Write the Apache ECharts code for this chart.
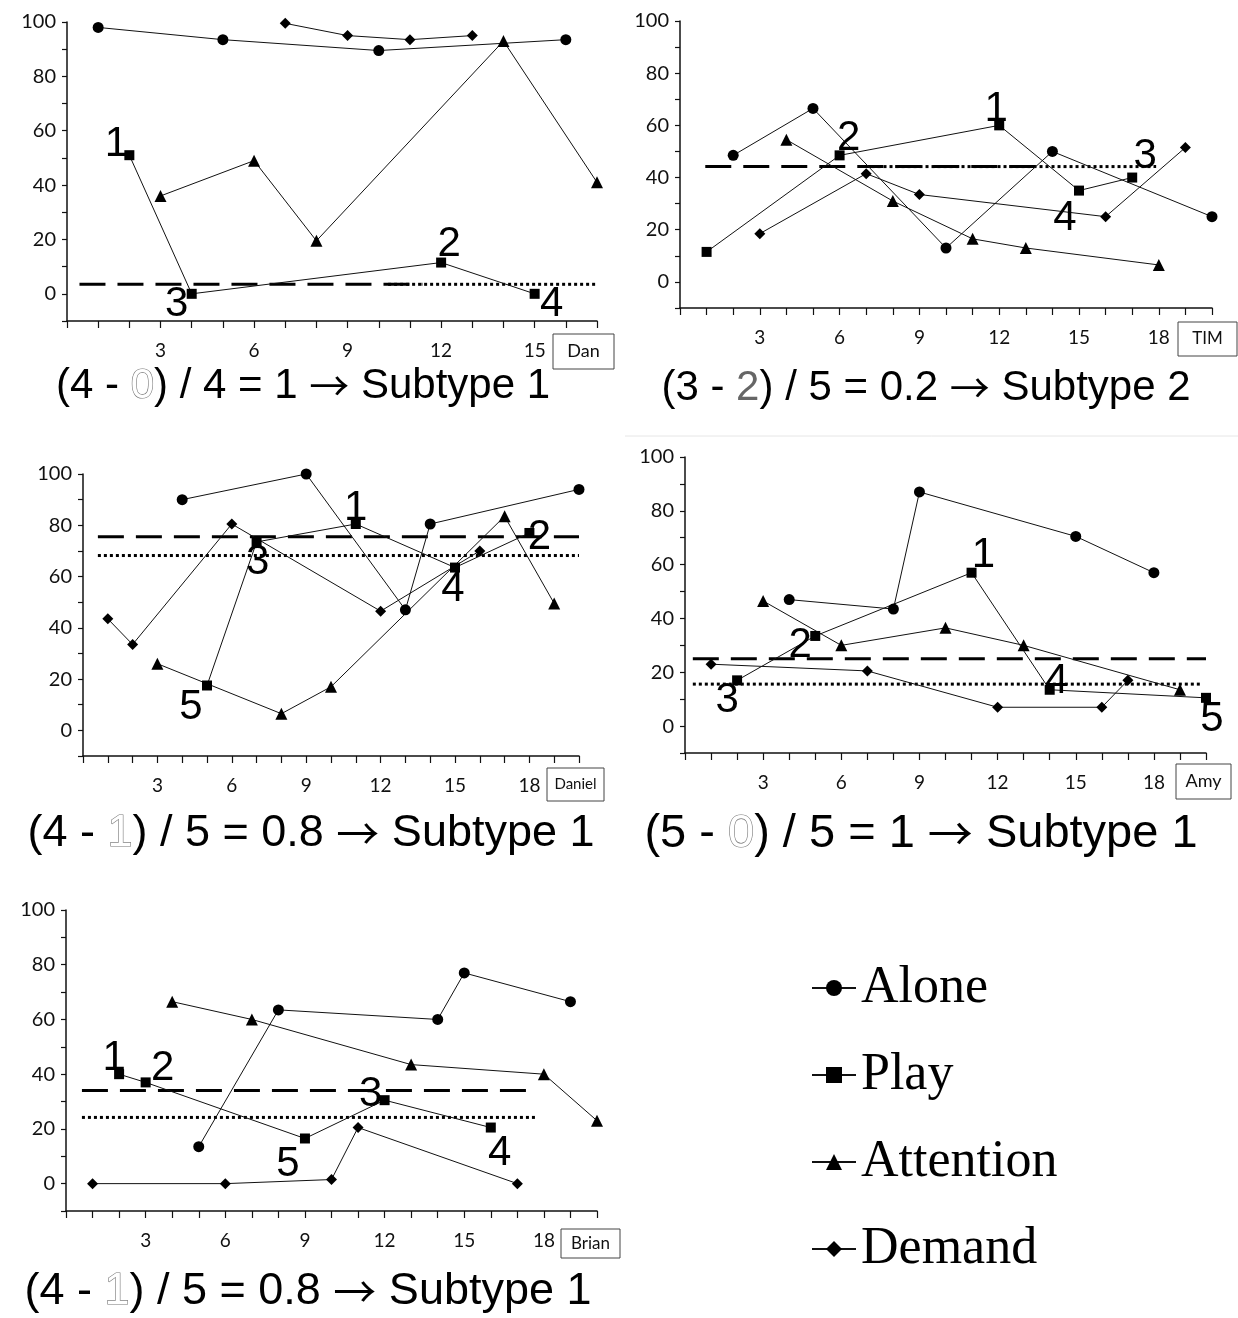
<!DOCTYPE html>
<html>
<head>
<meta charset="utf-8">
<script src="https://cdn.jsdelivr.net/npm/echarts@6/dist/echarts.min.js"></script>
<style>
  html, body { margin: 0; padding: 0; background: #fff; }
  #chart { width: 1238px; height: 1318px; }
</style>
</head>
<body>
<div id="chart"></div>
<script>
// Axis tick labels
const yTickLabels = [0, 20, 40, 60, 80, 100];
const xTickLabels = [3, 6, 9, 12, 15, 18];

// Dan: [session, % of intervals]
const danAlone = [[1, 98], [5, 93.5], [10, 89.5], [16, 93.5]];
const danPlay = [[2, 51], [4, 0], [12, 11.5], [15, 0]];
const danAttention = [[3, 36], [6, 49], [8, 19.5], [14, 93], [17, 41]];
const danDemand = [[7, 99.5], [9, 95], [11, 93.5], [13, 95]];
const danPlayRank = [1, 3, 2, 4];
const danDashed = [[0.4, 3.5], [11.4, 3.5]];
const danDotted = [[10.3, 3.5], [17, 3.5]];
const danFormula = '(4 - {o|0}) / 4 = 1 {a|\u2192} Subtype 1';

// TIM
const timAlone = [[2, 48.5], [5, 66.5], [10, 13], [14, 50], [20, 25]];
const timPlay = [[1, 11.5], [6, 48.5], [12, 60], [15, 35], [17, 40]];
const timAttention = [[4, 54.5], [8, 31], [11, 16.5], [13, 13], [18, 6.5]];
const timDemand = [[3, 18.5], [7, 41.5], [9, 33.5], [16, 25], [19, 51.5]];
const timPlayRank = [null, 2, 1, 4, 3];
const timDashed = [[0.95, 44.2], [13.4, 44.2]];
const timDotted = [[7.2, 44.2], [17.9, 44.2]];
const timFormula = '(3 - {g|2}) / 5 = 0.2 {a|\u2192} Subtype 2';

// Daniel
const danielAlone = [[4, 90], [9, 100], [13, 47], [14, 80.5], [20, 94]];
const danielPlay = [[5, 17.5], [7, 73.5], [11, 80.5], [15, 63.5], [18, 77]];
const danielAttention = [[3, 26], [8, 6.5], [10, 17], [17, 83.5], [19, 49.5]];
const danielDemand = [[1, 43.5], [2, 33.5], [6, 80.5], [12, 46.5], [16, 70]];
const danielPlayRank = [5, 3, 1, 4, 2];
const danielDashed = [[0.6, 75.5], [20, 75.5]];
const danielDotted = [[0.6, 68.2], [20, 68.2]];
const danielFormula = '(4 - {o|1}) / 5 = 0.8 {a|\u2192} Subtype 1';

// Amy
const amyAlone = [[4, 47], [8, 43.5], [9, 87], [15, 70.5], [18, 57]];
const amyPlay = [[2, 17], [5, 33.5], [11, 57], [14, 13.5], [20, 10.5]];
const amyAttention = [[3, 46.5], [6, 30], [10, 36.5], [13, 30], [19, 13.5]];
const amyDemand = [[1, 23], [7, 20.5], [12, 7], [16, 7], [17, 17]];
const amyPlayRank = [3, 2, 1, 4, 5];
const amyDashed = [[0.3, 25], [20, 25]];
const amyDotted = [[0.3, 15.6], [19.8, 15.6]];
const amyFormula = '(5 - {o|0}) / 5 = 1 {a|\u2192} Subtype 1';

// Brian
const brianAlone = [[5, 13.5], [8, 63.5], [14, 60], [15, 77], [19, 66.5]];
const brianPlay = [[2, 40], [3, 37], [9, 16.5], [12, 30.5], [16, 20.5]];
const brianAttention = [[4, 66.5], [7, 60], [13, 43.5], [18, 40], [20, 23]];
const brianDemand = [[1, 0], [6, 0], [10, 1.5], [11, 20.5], [17, 0]];
const brianPlayRank = [1, 2, 5, 3, 4];
const brianDashed = [[0.6, 34], [17.7, 34]];
const brianDotted = [[0.6, 24.2], [17.7, 24.2]];
const brianFormula = '(4 - {o|1}) / 5 = 0.8 {a|\u2192} Subtype 1';

const panels = [
  { name: 'Dan', alone: danAlone, play: danPlay, attention: danAttention, demand: danDemand,
    rank: danPlayRank, dashed: danDashed, dotted: danDotted, formula: danFormula, xMax: 17 },
  { name: 'TIM', alone: timAlone, play: timPlay, attention: timAttention, demand: timDemand,
    rank: timPlayRank, dashed: timDashed, dotted: timDotted, formula: timFormula, xMax: 20 },
  { name: 'Daniel', alone: danielAlone, play: danielPlay, attention: danielAttention, demand: danielDemand,
    rank: danielPlayRank, dashed: danielDashed, dotted: danielDotted, formula: danielFormula, xMax: 20 },
  { name: 'Amy', alone: amyAlone, play: amyPlay, attention: amyAttention, demand: amyDemand,
    rank: amyPlayRank, dashed: amyDashed, dotted: amyDotted, formula: amyFormula, xMax: 20 },
  { name: 'Brian', alone: brianAlone, play: brianPlay, attention: brianAttention, demand: brianDemand,
    rank: brianPlayRank, dashed: brianDashed, dotted: brianDotted, formula: brianFormula, xMax: 20 }
];

// Placement of each panel: plot area, name box, formula line, rank-number offsets
const layout = [
  { grid: { left: 67, top: 22, width: 530, height: 299 }, box: [553, 334, 61, 35], boxFont: 18,
    title: [303, 386], titleSize: 42, rankOffsets: [[-13, -11], [-15, 11], [8, -18], [17, 11]] },
  { grid: { left: 680, top: 21, width: 532, height: 287 }, box: [1178, 322, 59, 34], boxFont: 17,
    title: [926, 388], titleSize: 42, rankOffsets: [[0, 0], [9, -17], [-3, -16], [-14, 28], [13, -21]] },
  { grid: { left: 83, top: 474, width: 496, height: 282 }, box: [547, 768, 57, 33], boxFont: 15,
    title: [311, 834], titleSize: 45, rankOffsets: [[-16, 22], [1, 20], [0, -16], [-2, 22], [10, 4]] },
  { grid: { left: 685, top: 457, width: 521, height: 296 }, box: [1176, 764, 55, 35], boxFont: 18,
    title: [921, 834], titleSize: 47, rankOffsets: [[-10, 20], [-15, 9], [12, -17], [7, -8], [6, 22]] },
  { grid: { left: 66, top: 910, width: 531, height: 301 }, box: [561, 1229, 59, 29], boxFont: 17,
    title: [308, 1292], titleSize: 45, rankOffsets: [[-5, -16], [17, -14], [-17, 26], [-14, -6], [9, 26]] }
];

const INK = '#111';
const tickFont = 'Lato, "Open Sans", sans-serif';
const sansFont = '"Liberation Sans", Arial, sans-serif';

const grids = [], xAxes = [], yAxes = [], series = [], graphics = [];

const conditions = [
  { key: 'alone', name: 'Alone', symbol: 'circle', size: 11 },
  { key: 'play', name: 'Play', symbol: 'rect', size: 10 },
  { key: 'attention', name: 'Attention', symbol: 'triangle', size: 12 },
  { key: 'demand', name: 'Demand', symbol: 'diamond', size: 11 }
];

panels.forEach((p, i) => {
  const L = layout[i];
  grids.push(Object.assign({ containLabel: false }, L.grid));

  xAxes.push({
    type: 'value', gridIndex: i, min: 0, max: p.xMax, interval: 1,
    axisLine: { onZero: false, lineStyle: { color: INK, width: 1.5 } },
    axisTick: { show: true, length: 7, lineStyle: { color: INK, width: 1.2 } },
    splitLine: { show: false },
    axisLabel: {
      margin: 20, fontSize: 19, color: '#111', fontFamily: tickFont,
      showMinLabel: true, showMaxLabel: true,
      formatter: v => (xTickLabels.includes(v) ? String(v) : '')
    }
  });

  yAxes.push({
    type: 'value', gridIndex: i, min: -10, max: 100, interval: 10,
    axisLine: { show: true, onZero: false, lineStyle: { color: INK, width: 1.5 } },
    axisTick: { show: true, length: 5, lineStyle: { color: INK, width: 1.2 } },
    splitLine: { show: false },
    axisLabel: {
      margin: 11, fontSize: 20, color: '#111', fontFamily: tickFont,
      formatter: v => (yTickLabels.includes(v) ? String(v) : '')
    }
  });

  conditions.forEach(c => {
    series.push({
      type: 'line', name: c.name, xAxisIndex: i, yAxisIndex: i,
      data: p[c.key], symbol: c.symbol, symbolSize: c.size, showSymbol: true,
      lineStyle: { color: INK, width: 1 }, itemStyle: { color: '#000' },
      z: 3, silent: true
    });
  });

  // phase level lines
  series.push({
    type: 'line', name: 'level-a', xAxisIndex: i, yAxisIndex: i, data: p.dashed,
    symbol: 'none', lineStyle: { color: '#000', width: 3, type: [26, 12] }, z: 2, silent: true
  });
  series.push({
    type: 'line', name: 'level-b', xAxisIndex: i, yAxisIndex: i, data: p.dotted,
    symbol: 'none', lineStyle: { color: '#000', width: 3, type: [3, 3] }, z: 2, silent: true
  });

  // rank numbers beside the Play points
  const rankData = [];
  p.play.forEach((pt, k) => {
    if (p.rank[k] == null) return;
    rankData.push({ value: pt, name: String(p.rank[k]), label: { offset: L.rankOffsets[k] } });
  });
  series.push({
    type: 'scatter', name: 'rank', xAxisIndex: i, yAxisIndex: i, data: rankData,
    symbolSize: 1, itemStyle: { color: 'rgba(255,255,255,0)' }, z: 6, silent: true,
    label: {
      show: true, position: 'inside', formatter: '{b}', opacity: 1,
      textBorderWidth: 0, textBorderColor: 'transparent',
      fontSize: 42, fontFamily: sansFont, color: '#000'
    }
  });

  // name box
  const [bx, by, bw, bh] = L.box;
  graphics.push({
    type: 'rect', shape: { x: bx, y: by, width: bw, height: bh },
    style: { fill: '#fff', stroke: '#444', lineWidth: 1 }, z: 10
  });
  graphics.push({
    type: 'text', x: bx + bw / 2, y: by + bh / 2, z: 11,
    style: { text: p.name, font: L.boxFont + 'px ' + tickFont, fill: '#111', align: 'center', verticalAlign: 'middle' }
  });

  // formula line
  const fs = L.titleSize;
  graphics.push({
    type: 'text', x: L.title[0], y: L.title[1], z: 11,
    style: {
      text: p.formula, font: fs + 'px ' + sansFont, fill: '#000', align: 'center', verticalAlign: 'middle',
      rich: {
        o: { fontSize: fs, fontFamily: sansFont, fill: '#fff', stroke: '#777', lineWidth: 1.2 },
        g: { fontSize: fs, fontFamily: sansFont, fill: '#666' },
        a: { fontSize: Math.round(fs * 0.95), fontFamily: '"Noto Sans CJK JP", "DejaVu Sans", sans-serif', fill: '#000' }
      }
    }
  });
});

// faint separator under the TIM panel
graphics.push({
  type: 'line', shape: { x1: 625, y1: 436, x2: 1238, y2: 436 },
  style: { stroke: '#e6e6e6', lineWidth: 1 }, z: 1
});

const chart = echarts.init(document.getElementById('chart'), null, { renderer: 'canvas' });
chart.setOption({
  animation: false,
  backgroundColor: '#fff',
  grid: grids,
  xAxis: xAxes,
  yAxis: yAxes,
  series: series,
  graphic: graphics,
  legend: {
    data: ['Alone', 'Play', 'Attention', 'Demand'],
    orient: 'vertical', left: 806, top: 957,
    itemWidth: 44, itemHeight: 20, itemGap: 35,
    selectedMode: false,
    textStyle: { fontFamily: '"Liberation Serif", "Times New Roman", serif', fontSize: 52, lineHeight: 52, color: '#000' }
  }
});
</script>
</body>
</html>
